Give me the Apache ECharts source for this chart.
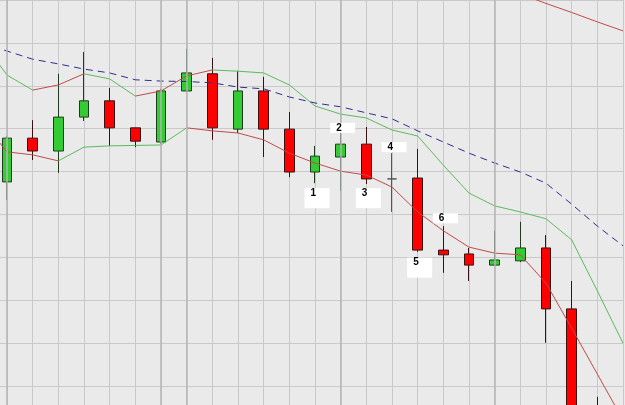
<!DOCTYPE html>
<html>
<head>
<meta charset="utf-8">
<script src="https://cdn.jsdelivr.net/npm/echarts@6/dist/echarts.min.js"></script>
<style>
  html, body { margin: 0; padding: 0; background: #eaeaea; }
  #chart { width: 625px; height: 405px; }
</style>
</head>
<body>
<div id="chart"></div>
<script>
// bars (one per grid column), first one is off the left edge
const categories = ['1','2','3','4','5','6','7','8','9','10','11','12','13',
  '14','15','16','17','18','19','20','21','22','23','24','25','26']

// [open, close, low, high]
const candles = [
  '-',
  [157.6, 167.8, 153.4, 168.3],
  [167.8, 164.8, 162.7, 172.0],
  [164.8, 172.7, 159.7, 182.8],
  [172.7, 176.5, 171.8, 187.9],
  [176.5, 170.2, 166.0, 179.5],
  [170.2, 167.1, 165.7, 170.2],
  [166.9, 178.8, 166.4, 179.3],
  [178.8, 183.0, 178.6, 188.6],
  [182.8, 170.2, 167.4, 186.5],
  [169.9, 178.8, 169.0, 183.5],
  [178.8, 169.9, 163.4, 182.1],
  [169.9, 159.9, 158.7, 173.9],
  [159.9, 163.6, 157.3, 166.0],
  [163.4, 166.4, 155.5, 169.0],
  [166.4, 158.3, 157.1, 170.4],
  [158.3, 158.3, 150.6, 164.3],
  [158.5, 141.7, 141.3, 165.3],
  [141.7, 140.6, 136.4, 147.3],
  [140.8, 138.2, 134.5, 142.2],
  [138.2, 139.4, 138.0, 146.2],
  [139.2, 142.2, 138.9, 148.3],
  [142.2, 128.0, 120.1, 145.2],
  [128.0, 99.8, 97.4, 134.5],
  [99.0, 90.0, 88.0, 107.5],
  '-'
]

const upperBand = [190.7, 182.5, 179.0, 180.2, 182.8, 181.6, 177.6, 178.8, 182.3, 183.7,
  183.4, 183.0, 180.2, 175.3, 173.4, 172.5, 169.7, 168.3, 161.5, 155.0,
  152.0, 150.6, 149.0, 144.1, 132.2, 120.0]

const lowerBand = [172.0, 164.6, 163.9, 162.5, 165.7, 166.0, 166.1, 166.2, 170.2, 169.5,
  169.0, 167.4, 164.3, 162.0, 160.1, 159.2, 156.4, 150.6, 146.2, 142.4,
  141.0, 140.6, 134.0, 123.5, 112.8, 102.1]

const slowMA = [190.0, 188.1, 186.2, 185.1, 183.9, 183.0, 181.4, 181.1, 181.0, 180.7,
  179.7, 179.3, 177.4, 176.0, 175.1, 173.7, 172.3, 169.5, 166.9, 164.3,
  162.0, 159.9, 157.3, 152.4, 147.3, 142.7]

const outerLine = [null, null, null, null, null, null, null, null, null, null,
  null, null, null, null, null, null, null, null, null, null,
  null, 201.4, 199.2, 197.1, 194.9, 192.8]

// period separators (darker vertical lines)
const separators = ['2', '8', '9', '15', '21']

// numbered text boxes
const noteBars = [13, 14, 15, 16, 17, 18]
const notePrices = [153.8, 170.2, 153.8, 165.7, 137.6, 149.1]
const noteTexts = ['1', '2', '3', '4', '5', '6']

const RED = '#c24a4a'
const GREEN = '#5dba5d'

// band is coloured segment by segment, depending on its direction
function bandSeries(values, risingColor, fallingColor) {
  const runs = []
  for (let i = 1; i < values.length; i++) {
    const c = values[i] >= values[i - 1] ? risingColor : fallingColor
    const last = runs[runs.length - 1]
    if (last && last.color === c) last.end = i
    else runs.push({ color: c, start: i - 1, end: i })
  }
  return runs.map(r => ({
    type: 'line',
    data: values.map((v, i) => (i >= r.start && i <= r.end ? v : null)),
    showSymbol: false,
    lineStyle: { color: r.color, width: 1 },
    z: 3
  }))
}

const chart = echarts.init(document.getElementById('chart'))
chart.setOption({
  backgroundColor: '#eaeaea',
  animation: false,
  grid: { left: -18.67, top: 0, width: 641.67, height: 429, outerBoundsMode: 'none' },
  xAxis: {
    type: 'category',
    data: categories,
    boundaryGap: false,
    axisLine: { show: false },
    axisTick: { show: false },
    axisLabel: { show: false },
    splitLine: { show: true, interval: 0, lineStyle: { color: '#c9c9c9', width: 1 } }
  },
  yAxis: {
    type: 'value',
    min: 100,
    max: 200,
    interval: 10,
    axisLine: { show: false },
    axisTick: { show: false },
    axisLabel: { show: false },
    splitLine: { show: true, lineStyle: { color: '#c9c9c9', width: 1 } }
  },
  series: [
    {
      type: 'line',
      data: [],
      z: 1,
      markLine: {
        silent: true,
        symbol: ['none', 'none'],
        label: { show: false },
        lineStyle: { color: '#b4b4b4', width: 1.5, type: 'solid' },
        data: separators.map(s => ({ xAxis: s }))
      }
    },
    {
      type: 'candlestick',
      data: candles,
      barWidth: 10,
      z: 2,
      itemStyle: {
        color: '#33cc33',
        color0: '#ff0000',
        borderColor: '#1f3a1f',
        borderColor0: '#3a1212',
        borderColorDoji: '#555',
        borderWidth: 1
      }
    },
    ...bandSeries(upperBand, RED, GREEN),
    ...bandSeries(lowerBand, GREEN, RED),
    {
      type: 'line',
      data: slowMA,
      showSymbol: false,
      z: 3,
      lineStyle: { color: '#2e2e8c', width: 1, type: [7, 5] }
    },
    {
      type: 'line',
      data: outerLine,
      showSymbol: false,
      z: 3,
      lineStyle: { color: RED, width: 1 }
    },
    {
      type: 'scatter',
      data: noteBars.map((b, k) => [b, notePrices[k]]),
      symbol: 'rect',
      symbolSize: (v, p) => (p.dataIndex % 2 === 0 ? [25, 20] : [25, 10]),
      symbolOffset: [2, 0],
      itemStyle: { color: '#ffffff', opacity: 1 },
      z: 5,
      label: {
        show: true,
        position: 'insideTopLeft',
        distance: 0,
        offset: [6, 0],
        formatter: p => noteTexts[p.dataIndex],
        color: '#000',
        fontSize: 10,
        fontWeight: 'bold',
        fontFamily: 'Liberation Sans'
      }
    }
  ]
})
</script>
</body>
</html>
